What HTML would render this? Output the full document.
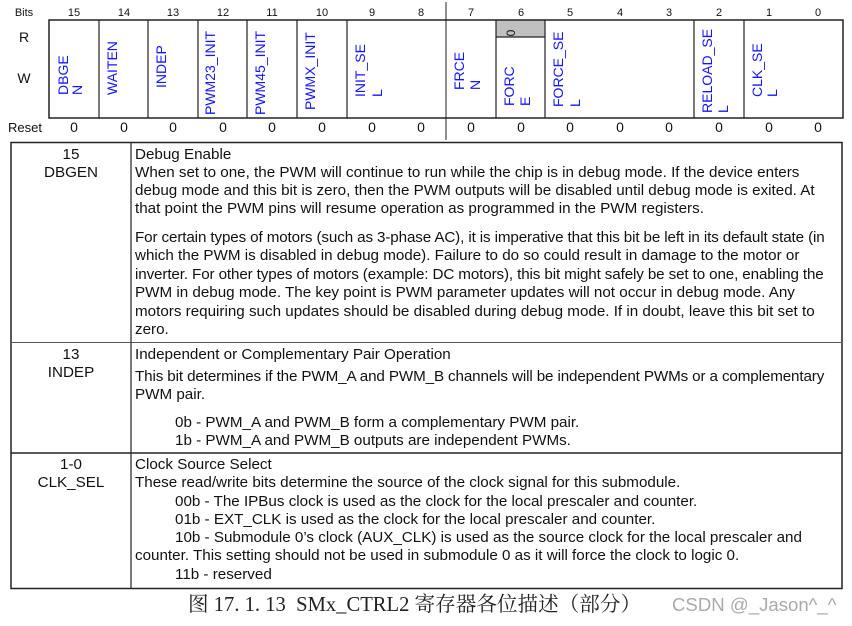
<!DOCTYPE html>
<html><head><meta charset="utf-8"><style>
body{margin:0;width:852px;height:626px;background:#fff;position:relative;overflow:hidden;font-family:"Liberation Sans",Arial,sans-serif;color:#111}
.t{position:absolute;font-size:15.2px;line-height:18px;white-space:pre}
.c{text-align:center}
.i{display:block;padding-left:40px}
.n{letter-spacing:-0.12px}
</style></head><body>
<svg width="852" height="626" style="position:absolute;left:0;top:0" font-family="Liberation Sans, Arial, sans-serif">
<g font-size="11" fill="#111" text-anchor="middle">
<text x="24" y="16">Bits</text>
<text x="74" y="16">15</text><text x="124" y="16">14</text><text x="173" y="16">13</text><text x="223" y="16">12</text>
<text x="272" y="16">11</text><text x="322" y="16">10</text><text x="372" y="16">9</text><text x="421" y="16">8</text>
<text x="471" y="16">7</text><text x="521" y="16">6</text><text x="570" y="16">5</text><text x="620" y="16">4</text>
<text x="669" y="16">3</text><text x="719" y="16">2</text><text x="769" y="16">1</text><text x="818" y="16">0</text>
</g>
<g font-size="14" fill="#111" text-anchor="middle">
<text x="24" y="42">R</text><text x="24" y="83">W</text>
<text x="25" y="132" font-size="13">Reset</text>
<text x="74" y="132">0</text><text x="124" y="132">0</text><text x="173" y="132">0</text><text x="223" y="132">0</text>
<text x="272" y="132">0</text><text x="322" y="132">0</text><text x="372" y="132">0</text><text x="421" y="132">0</text>
<text x="471" y="132">0</text><text x="521" y="132">0</text><text x="570" y="132">0</text><text x="620" y="132">0</text>
<text x="669" y="132">0</text><text x="719" y="132">0</text><text x="769" y="132">0</text><text x="818" y="132">0</text>
</g>
<line x1="446" y1="2" x2="446" y2="140" stroke="#222" stroke-width="1"/>
<rect x="496" y="20" width="49.6" height="17" fill="#c0c0c0"/>
<rect x="49" y="20" width="794" height="98" fill="none" stroke="#222" stroke-width="1.5"/>
<g stroke="#222" stroke-width="1.2">
<line x1="99" y1="20" x2="99" y2="118"/><line x1="148" y1="20" x2="148" y2="118"/>
<line x1="198" y1="20" x2="198" y2="118"/><line x1="247" y1="20" x2="247" y2="118"/>
<line x1="297" y1="20" x2="297" y2="118"/><line x1="347" y1="20" x2="347" y2="118"/>
<line x1="496" y1="20" x2="496" y2="118"/><line x1="545" y1="20" x2="545" y2="118"/>
<line x1="694" y1="20" x2="694" y2="118"/><line x1="744" y1="20" x2="744" y2="118"/>
<line x1="496" y1="37" x2="545" y2="37"/>
</g>
<text transform="translate(515,33) rotate(-90)" font-size="12" fill="#111" text-anchor="middle">0</text>
<g font-size="14" fill="#1414ff">
<text transform="translate(68,95) rotate(-90)">DBGE</text><text transform="translate(82,95) rotate(-90)">N</text>
<text transform="translate(117,95) rotate(-90)">WAITEN</text>
<text transform="translate(166,88) rotate(-90)">INDEP</text>
<text transform="translate(215,115) rotate(-90)">PWM23_INIT</text>
<text transform="translate(265,115) rotate(-90)">PWM45_INIT</text>
<text transform="translate(315,110) rotate(-90)">PWMX_INIT</text>
<text transform="translate(365,97) rotate(-90)">INIT_SE</text><text transform="translate(382,97) rotate(-90)">L</text>
<text transform="translate(464,90) rotate(-90)">FRCE</text><text transform="translate(480,90) rotate(-90)">N</text>
<text transform="translate(514,106) rotate(-90)">FORC</text><text transform="translate(530,106) rotate(-90)">E</text>
<text transform="translate(563,107) rotate(-90)">FORCE_SE</text><text transform="translate(580,107) rotate(-90)">L</text>
<text transform="translate(712,113) rotate(-90)">RELOAD_SE</text><text transform="translate(728,113) rotate(-90)">L</text>
<text transform="translate(762,97) rotate(-90)">CLK_SE</text><text transform="translate(777,97) rotate(-90)">L</text>
</g>
<rect x="11" y="142.5" width="831" height="446" fill="none" stroke="#222" stroke-width="1.5"/>
<line x1="131" y1="142" x2="131" y2="589" stroke="#222" stroke-width="1.2"/>
<line x1="11" y1="342.5" x2="842" y2="342.5" stroke="#555" stroke-width="1"/>
<line x1="11" y1="453" x2="842" y2="453" stroke="#222" stroke-width="1.5"/>
</svg>

<div class="t c" style="left:11px;width:120px;top:146px">15
DBGEN</div>
<div class="t" style="left:135px;top:146px">Debug Enable
When set to one, the PWM will continue to run while the chip is in debug mode. If the device enters
debug mode and this bit is zero, then the PWM outputs will be disabled until debug mode is exited. At
that point the PWM pins will resume operation as programmed in the PWM registers.</div>
<div class="t" style="left:135px;top:229px;line-height:18.4px"><span class="n">For certain types of motors (such as 3-phase AC), it is imperative that this bit be left in its default state (in</span>
which the PWM is disabled in debug mode). Failure to do so could result in damage to the motor or
<span class="n">inverter. For other types of motors (example: DC motors), this bit might safely be set to one, enabling the</span>
PWM in debug mode. The key point is PWM parameter updates will not occur in debug mode. Any
motors requiring such updates should be disabled during debug mode. If in doubt, leave this bit set to
zero.</div>

<div class="t c" style="left:11px;width:120px;top:346px">13
INDEP</div>
<div class="t" style="left:135px;top:346px">Independent or Complementary Pair Operation</div>
<div class="t" style="left:135px;top:368px"><span class="n">This bit determines if the PWM_A and PWM_B channels will be independent PWMs or a complementary</span>
PWM pair.</div>
<div class="t" style="left:175px;top:414px">0b - PWM_A and PWM_B form a complementary PWM pair.
1b - PWM_A and PWM_B outputs are independent PWMs.</div>

<div class="t c" style="left:11px;width:120px;top:456px">1-0
CLK_SEL</div>
<div class="t" style="left:135px;top:456px;line-height:18.3px">Clock Source Select
These read/write bits determine the source of the clock signal for this submodule.
<span class="i">00b - The IPBus clock is used as the clock for the local prescaler and counter.</span><span class="i">01b - EXT_CLK is used as the clock for the local prescaler and counter.</span><span class="i">10b - Submodule 0’s clock (AUX_CLK) is used as the source clock for the local prescaler and</span>counter. This setting should not be used in submodule 0 as it will force the clock to logic 0.
<span class="i">11b - reserved</span></div>

<div class="t" style="left:188px;top:592px;font-size:20.6px;line-height:26px;font-family:'Liberation Serif','Noto Serif CJK SC',serif;color:#222">图 17. 1. 13  SMx_CTRL2 寄存器各位描述（部分）</div>
<div class="t" style="left:672px;top:596px;font-size:18.6px;color:#aaa">CSDN @_Jason^_^</div>
</body></html>
